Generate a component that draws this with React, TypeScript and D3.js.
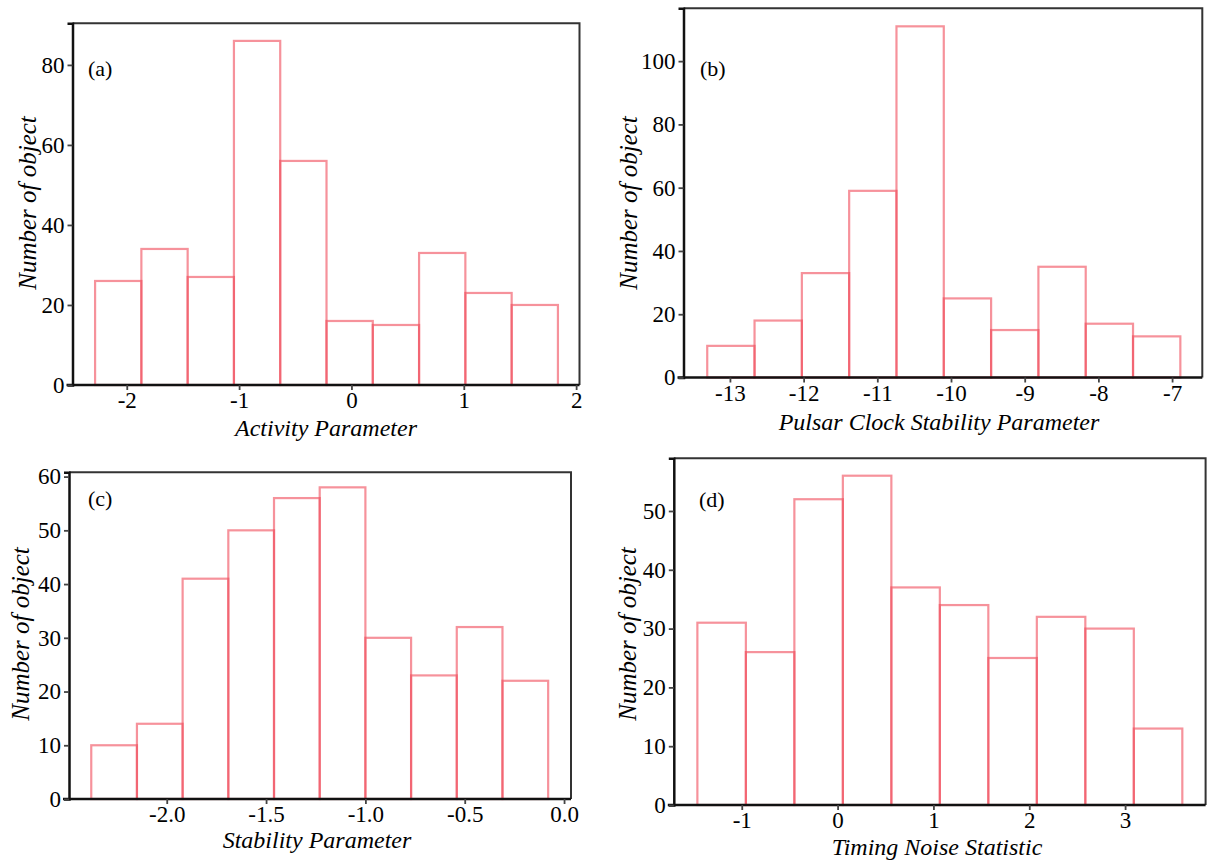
import React, { useEffect, useRef } from 'react';
import * as d3 from 'd3';

// bin counts
const activityCounts = [26, 34, 27, 86, 56, 16, 15, 33, 23, 20];
const pulsarCounts = [10, 18, 33, 59, 111, 25, 15, 35, 17, 13];
const stabilityCounts = [10, 14, 41, 50, 56, 58, 30, 23, 32, 22];
const timingCounts = [31, 26, 52, 56, 37, 34, 25, 32, 30, 13];

// first bin edge and bin width of each histogram
const activityBins = [-2.282, 0.412];
const pulsarBins = [-13.308, 0.642];
const stabilityBins = [-2.38, 0.23];
const timingBins = [-1.463, 0.506];

const activityXTicks = [-2, -1, 0, 1, 2];
const pulsarXTicks = [-13, -12, -11, -10, -9, -8, -7];
const stabilityXTicks = [-2.0, -1.5, -1.0, -0.5, 0.0];
const timingXTicks = [-1, 0, 1, 2, 3];

const activityYTicks = [0, 20, 40, 60, 80];
const pulsarYTicks = [0, 20, 40, 60, 80, 100];
const stabilityYTicks = [0, 10, 20, 30, 40, 50, 60];
const timingYTicks = [0, 10, 20, 30, 40, 50];

const xTitles = ['Activity Parameter', 'Pulsar Clock Stability Parameter', 'Stability Parameter', 'Timing Noise Statistic'];
const panelTags = ['(a)', '(b)', '(c)', '(d)'];
const yTitle = 'Number of object';

const FONT = "'Liberation Serif', 'Times New Roman', serif";

// d3 uses a unicode minus, the figure uses a plain hyphen
const hyphen = (f: (n: number) => string) => (d: any) => f(d).replace('\u2212', '-');

const panels = [
  {
    counts: activityCounts, bins: activityBins, xTicks: activityXTicks, yTicks: activityYTicks,
    xDomain: [-2.483, 2.03], yDomain: [0, 90.4], fmt: d3.format('d'),
    box: { left: 72.5, right: 579.5, top: 23.3, bottom: 385 },
    title: { x: 326, y: 436 }, yt: { x: 27, y: 203 }, tag: { x: 88, y: 76 },
  },
  {
    counts: pulsarCounts, bins: pulsarBins, xTicks: pulsarXTicks, yTicks: pulsarYTicks,
    xDomain: [-13.63, -6.59], yDomain: [0, 116.7], fmt: d3.format('d'),
    box: { left: 683.5, right: 1202.3, top: 8.3, bottom: 377.5 },
    title: { x: 939, y: 430 }, yt: { x: 628, y: 203 }, tag: { x: 700, y: 76 },
  },
  {
    counts: stabilityCounts, bins: stabilityBins, xTicks: stabilityXTicks, yTicks: stabilityYTicks,
    xDomain: [-2.492, 0.035], yDomain: [0, 60.8], fmt: d3.format('.1f'),
    box: { left: 69, right: 571, top: 472.3, bottom: 799 },
    title: { x: 317, y: 848 }, yt: { x: 20, y: 634 }, tag: { x: 88, y: 506 },
  },
  {
    counts: timingCounts, bins: timingBins, xTicks: timingXTicks, yTicks: timingYTicks,
    xDomain: [-1.709, 3.84], yDomain: [0, 58.96], fmt: d3.format('d'),
    box: { left: 673.8, right: 1205.6, top: 458.3, bottom: 805 },
    title: { x: 937, y: 855 }, yt: { x: 627, y: 634 }, tag: { x: 699, y: 507 },
  },
];

const App = () => {
  const ref = useRef<SVGSVGElement | null>(null);

  useEffect(() => {
    const svg = d3.select(ref.current);
    svg.selectAll('*').remove();

    panels.forEach((p, i) => {
      const { left, right, top, bottom } = p.box;
      const x = d3.scaleLinear().domain(p.xDomain).range([left, right]);
      const y = d3.scaleLinear().domain(p.yDomain).range([bottom, top]);
      const g = svg.append('g');

      // top/right frame
      g.append('path')
        .attr('d', `M${left},${top}H${right}V${bottom}`)
        .attr('fill', 'none')
        .attr('stroke', '#333')
        .attr('stroke-width', 2);

      const [start, width] = p.bins;
      g.selectAll('rect.bar')
        .data(p.counts)
        .enter()
        .append('rect')
        .attr('class', 'bar')
        .attr('x', (d, j) => x(start + j * width))
        .attr('width', (d, j) => x(start + (j + 1) * width) - x(start + j * width))
        .attr('y', (d) => y(d))
        .attr('height', (d) => y(0) - y(d))
        .attr('fill', 'none')
        .attr('stroke', '#f04a58')
        .attr('stroke-opacity', 0.6)
        .attr('stroke-width', 2.2);

      const xAxis = g.append('g')
        .attr('transform', `translate(0,${bottom})`)
        .call(d3.axisBottom(x).tickValues(p.xTicks).tickFormat(hyphen(p.fmt)).tickSizeOuter(0).tickSize(5).tickPadding(2));
      const yAxis = g.append('g')
        .attr('transform', `translate(${left},0)`)
        .call(d3.axisLeft(y).tickValues(p.yTicks).tickFormat(hyphen(d3.format('d'))).tickSizeOuter(0).tickSize(5).tickPadding(3));

      [xAxis, yAxis].forEach((ax) => {
        ax.select('.domain').attr('stroke', '#111').attr('stroke-width', 2.5);
        ax.selectAll('.tick line').attr('stroke', '#444').attr('stroke-width', 1.8);
        ax.selectAll('.tick text')
          .attr('fill', '#000')
          .style('font-family', FONT)
          .style('font-size', '23px');
      });
      xAxis.select('.domain').attr('d', `M${left - 6},0H${right}`);

      g.append('text')
        .attr('x', p.title.x)
        .attr('y', p.title.y)
        .attr('text-anchor', 'middle')
        .style('font-family', FONT)
        .style('font-style', 'italic')
        .style('font-size', '24px')
        .text(xTitles[i]);

      g.append('text')
        .attr('transform', `translate(${p.yt.x},${p.yt.y}) rotate(-90)`)
        .attr('text-anchor', 'middle')
        .attr('dy', '0.35em')
        .style('font-family', FONT)
        .style('font-style', 'italic')
        .style('font-size', '25px')
        .text(yTitle);

      g.append('text')
        .attr('x', p.tag.x)
        .attr('y', p.tag.y)
        .style('font-family', FONT)
        .style('font-size', '22px')
        .text(panelTags[i]);
    });
  }, []);

  return (
    <svg
      ref={ref}
      width={1208}
      height={861}
      style={{ position: 'absolute', left: 0, top: 0, background: '#fff' }}
    />
  );
};

export default App;
